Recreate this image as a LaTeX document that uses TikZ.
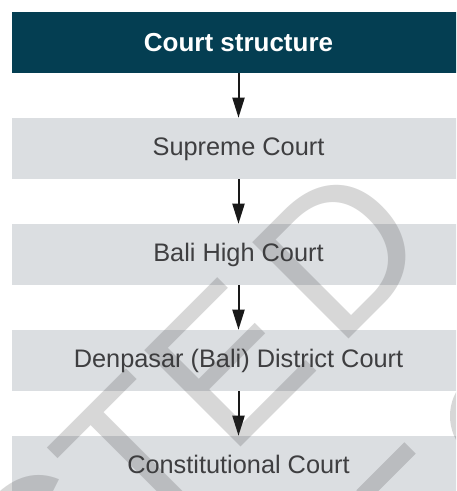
\documentclass[tikz,border=0pt]{standalone}
\usepackage{fontspec}
\setmainfont{Liberation Sans}
\newfontfamily\wmfont{Liberation Sans}
\usetikzlibrary{arrows.meta}
\definecolor{headteal}{RGB}{4,62,82}
\definecolor{boxgray}{RGB}{219,222,225}
\definecolor{txtdark}{RGB}{62,62,64}
\definecolor{wmgray}{RGB}{55,55,55}
\begin{document}
\begin{tikzpicture}[x=0.75pt,y=-0.75pt,
  header/.style={fill=headteal, text=white, font=\bfseries\fontsize{19.5pt}{22pt}\selectfont,
    minimum width=339.75pt, minimum height=45.75pt, inner sep=0pt, text height=14pt, text depth=1.2pt},
  level/.style={fill=boxgray, text=txtdark, font=\fontsize{19pt}{22pt}\selectfont,
    minimum width=339.75pt, minimum height=45.75pt, inner sep=0pt, text height=14pt, text depth=2.8pt},
  link/.style={draw=black!90, line width=1.5pt, -{Triangle[length=15pt,width=9pt]}},
  wmletter/.style={rotate=45, anchor=base west, inner sep=0pt, outer sep=0pt, text=wmgray,
    text opacity=0.2, font=\wmfont\fontsize{148.5pt}{150pt}\selectfont},
  wmstroke/.style={draw=wmgray, draw opacity=0.2, line width=12pt}
]
\useasboundingbox (0,0) rectangle (456,491);
\clip (0,0) rectangle (456,491);
\fill[white] (0,0) rectangle (456,491);
% chart
\node[header] (head) at (238.5,42.5) {Court structure};
\node[level] (sup) at (238.5,148.5) {Supreme Court};
\node[level] (high) at (238.5,254.5) {Bali High Court};
\node[level] (dist) at (238.5,360.5) {Denpasar (Bali) District Court};
\node[level] (cons) at (238.5,466.5) {Constitutional Court};
\draw[link] (head) -- (sup);
\draw[link] (sup) -- (high);
\draw[link] (high) -- (dist);
\draw[link] (dist) -- (cons);
% watermark
\node[wmletter] (wC) at (38.9,648.4) {C};
\node[wmletter] (wT) at (140.0,547.3) {T};
\node[wmletter] (wE) at (229.1,458.2) {E};
\node[wmletter] (wD) at (337.3,350.0) {D};
\coordinate (fa) at (362,496);
\coordinate (fb) at (410,448);
\draw[wmstroke] (fa) -- (fb);
\coordinate (fc) at (500,416);
\draw[wmstroke] (fc) circle[radius=42];
\end{tikzpicture}
\end{document}
